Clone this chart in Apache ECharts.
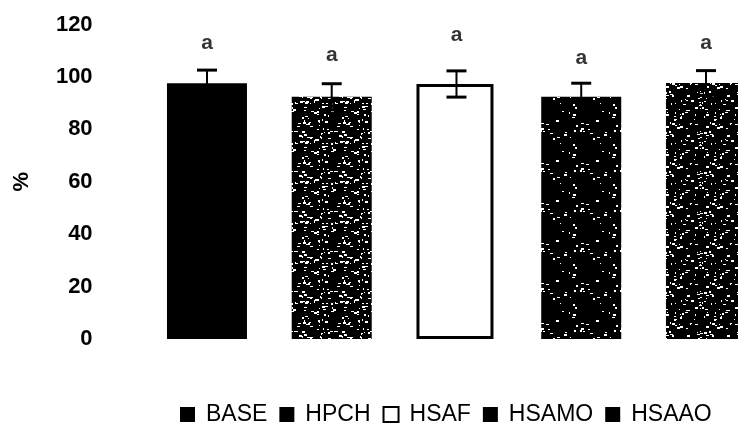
<!DOCTYPE html>
<html>
<head>
<meta charset="utf-8">
<script src="https://cdn.jsdelivr.net/npm/echarts@6/dist/echarts.min.js"></script>
<style>html,body{margin:0;padding:0;background:#fff}#c{width:738px;height:428px}</style>
</head>
<body>
<div id="c"></div>
<script>
var categories = ['BASE', 'HPCH', 'HSAF', 'HSAMO', 'HSAAO'];
var means = [97.6, 92.4, 97.3, 92.4, 97.7];
var errors = [5.0, 5.0, 5.0, 5.2, 4.7];
var letters = ['a', 'a', 'a', 'a', 'a'];
var letterY = [113, 108.4, 116, 107.3, 113];
var yTicks = [0, 20, 40, 60, 80, 100, 120];

function speckle(density, seed) {
  var cv = document.createElement('canvas');
  cv.width = 40; cv.height = 40;
  var ctx = cv.getContext('2d');
  ctx.fillStyle = '#000';
  ctx.fillRect(0, 0, 40, 40);
  ctx.fillStyle = '#fff';
  var s = seed;
  function rnd() { s = (s * 1103515245 + 12345) % 2147483648; return s / 2147483648; }
  for (var i = 0; i < density; i++) {
    var x = Math.floor(rnd() * 40), y = Math.floor(rnd() * 40);
    var w = 1 + Math.floor(rnd() * 3), h = 1 + Math.floor(rnd() * 2);
    ctx.fillRect(x, y, w, h);
  }
  return { image: cv, repeat: 'repeat' };
}

var styles = [
  { color: '#000' },
  { color: speckle(70, 7) },
  { color: '#fff', borderColor: '#000', borderWidth: 3 },
  { color: speckle(22, 3) },
  { color: speckle(60, 11) }
];
var legendStyles = [
  { color: '#000' }, { color: '#000' }, { color: '#fff', borderColor: '#000', borderWidth: 2 }, { color: '#000' }, { color: '#000' }
];

var series = categories.map(function (name, i) {
  return {
    name: name,
    type: 'bar',
    barWidth: i === 2 ? 77 : 80,
    barGap: '-100%',
    itemStyle: styles[i],
    z: 2,
    data: categories.map(function (c, j) { return j === i ? means[i] : '-'; })
  };
});

series.push({
  type: 'custom',
  name: 'err',
  z: 5,
  renderItem: function (params, api) {
    var i = api.value(0);
    var hi = api.coord([i, api.value(1) + api.value(2)]);
    var lo = api.coord([i, api.value(1) - api.value(2)]);
    var hw = 10;
    var st = { stroke: '#000', lineWidth: 3 };
    return {
      type: 'group',
      children: [
        { type: 'line', shape: { x1: hi[0], y1: hi[1], x2: lo[0], y2: lo[1] }, style: { stroke: '#000', lineWidth: 2 } },
        { type: 'line', shape: { x1: hi[0] - hw, y1: hi[1], x2: hi[0] + hw, y2: hi[1] }, style: st },
        { type: 'line', shape: { x1: lo[0] - hw, y1: lo[1], x2: lo[0] + hw, y2: lo[1] }, style: st }
      ]
    };
  },
  data: means.map(function (m, i) { return [i, m, errors[i]]; })
});

series.push({
  type: 'scatter',
  name: 'letters',
  symbolSize: 0,
  z: 6,
  label: {
    show: true, position: 'inside',
    formatter: function (p) { return letters[p.dataIndex]; },
    fontFamily: 'Liberation Sans', fontWeight: 'bold', fontSize: 21, color: '#000'
  },
  data: letterY.map(function (v, i) { return [i, v]; })
});

var chart = echarts.init(document.getElementById('c'));
chart.setOption({
  animation: false,
  backgroundColor: '#fff',
  grid: { left: 144.6, width: 623.75, top: 24.5, height: 314.5, outerBoundsMode: 'none', containLabel: false },
  xAxis: {
    type: 'category', data: categories,
    axisLine: { show: false }, axisTick: { show: false }, axisLabel: { show: false }
  },
  yAxis: {
    type: 'value', min: yTicks[0], max: yTicks[yTicks.length - 1], interval: 20,
    name: '%', nameLocation: 'middle', nameRotate: 90, nameGap: 112,
    nameTextStyle: { fontFamily: 'Liberation Sans', fontWeight: 'bold', fontSize: 22, color: '#000' },
    axisLine: { show: false }, axisTick: { show: false }, splitLine: { show: false },
    axisLabel: { margin: 52, fontFamily: 'Liberation Sans', fontWeight: 'bold', fontSize: 22, color: '#000' }
  },
  legend: {
    left: 180, top: 403, padding: 0, itemWidth: 15, itemHeight: 15, itemGap: 12, icon: 'rect',
    textStyle: { fontFamily: 'Liberation Sans', fontSize: 23, color: '#000', padding: [0, 0, 0, 6] },
    data: categories.map(function (c, i) { return { name: c, itemStyle: legendStyles[i] }; })
  },
  series: series
});
</script>
</body>
</html>
